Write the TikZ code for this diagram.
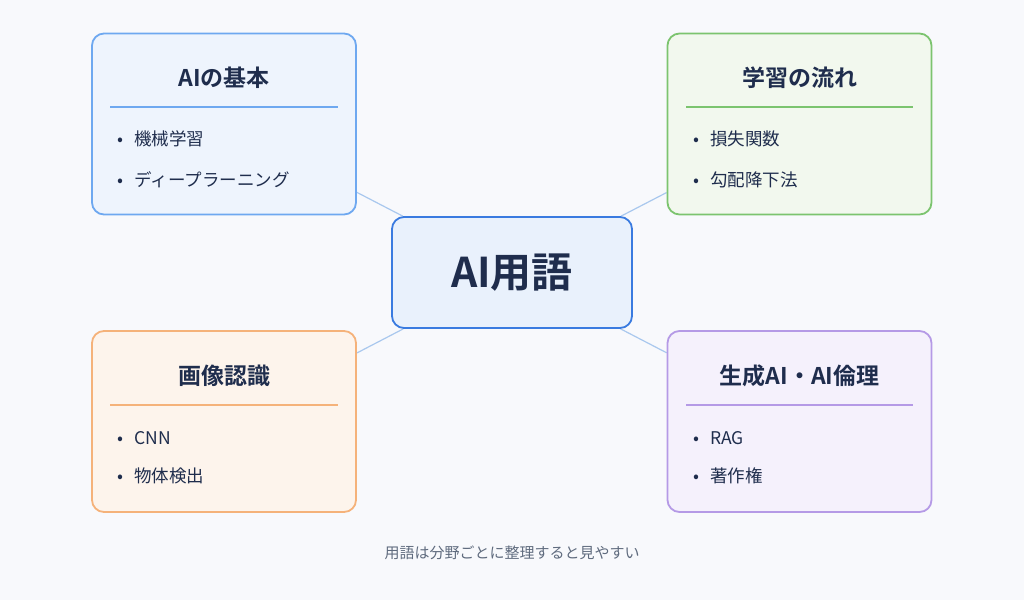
\documentclass[tikz,border=0pt]{standalone}
\usepackage{fontspec}
\setmainfont{Noto Sans CJK JP}
\newfontfamily\jpbold{Noto Sans CJK JP Bold}
\usetikzlibrary{backgrounds}
\definecolor{ink}{HTML}{1F2D4D}
\definecolor{bgc}{HTML}{F8F9FC}
\definecolor{bluel}{HTML}{6EA8F0}\definecolor{bluef}{HTML}{EEF4FD}
\definecolor{greenl}{HTML}{7CC46F}\definecolor{greenf}{HTML}{F2F8EE}
\definecolor{orangel}{HTML}{F5B27A}\definecolor{orangef}{HTML}{FDF4EC}
\definecolor{purplel}{HTML}{B59AE6}\definecolor{purplef}{HTML}{F5F1FC}
\definecolor{centerl}{HTML}{3A7BE0}\definecolor{centerf}{HTML}{E9F1FC}
\definecolor{linkc}{HTML}{A9C8EE}
\definecolor{capc}{HTML}{5F6B7E}
\begin{document}
\begin{tikzpicture}[x=1pt,y=-1pt,
    card/.style={draw=#1l,fill=#1f,line width=1.8pt,rounded corners=12pt,
      minimum width=264pt,minimum height=181pt},
    title/.style={text=ink,font=\jpbold\fontsize{23}{26}\selectfont},
    item/.style={text=ink,anchor=west,font=\fontsize{17.5}{20}\selectfont},
    rule/.style={draw=#1,line width=1.2pt},
    link/.style={draw=linkc,line width=1.2pt}
  ]
  \useasboundingbox (0,0) rectangle (1024,600);
  % center
  \node[draw=centerl,fill=centerf,line width=1.8pt,rounded corners=12pt,
    minimum width=240pt,minimum height=111pt,text=ink,
    font=\jpbold\fontsize{41}{46}\selectfont] (c) at (512,272.5) {AI用語};
  % cards
  \node[card=blue] (tl) at (224,124) {};
  \node[card=green] (tr) at (799.5,124) {};
  \node[card=orange] (bl) at (224,421.5) {};
  \node[card=purple] (br) at (799.5,421.5) {};
  \begin{scope}[on background layer]
    \fill[bgc] (0,0) rectangle (1024,600);
    \draw[link] (tl) -- (c);
    \draw[link] (tr) -- (c);
    \draw[link] (bl) -- (c);
    \draw[link] (br) -- (c);
  \end{scope}
  % top left
  \node[title] (tlt) at (224,78) {AIの基本};
  \draw[rule=bluel] (110,107) -- (338,107);
  \node[item] (tl1) at (114,139) {•\hspace{11pt}機械学習};
  \node[item] (tl2) at (114,180) {•\hspace{11pt}ディープラーニング};
  % top right
  \node[title] (trt) at (799.5,78) {学習の流れ};
  \draw[rule=greenl] (686,107) -- (913,107);
  \node[item] (tr1) at (690,139) {•\hspace{11pt}損失関数};
  \node[item] (tr2) at (690,180) {•\hspace{11pt}勾配降下法};
  % bottom left
  \node[title] (blt) at (224,376) {画像認識};
  \draw[rule=orangel] (110,405) -- (338,405);
  \node[item] (bl1) at (114,438) {•\hspace{11pt}CNN};
  \node[item] (bl2) at (114,476) {•\hspace{11pt}物体検出};
  % bottom right
  \node[title] (brt) at (799.5,376) {生成AI・AI倫理};
  \draw[rule=purplel] (686,405) -- (913,405);
  \node[item] (br1) at (690,438) {•\hspace{11pt}RAG};
  \node[item] (br2) at (690,476) {•\hspace{11pt}著作権};
  % caption
  \node[text=capc,font=\fontsize{15}{18}\selectfont] (cap) at (512,553) {用語は分野ごとに整理すると見やすい};
\end{tikzpicture}
\end{document}
